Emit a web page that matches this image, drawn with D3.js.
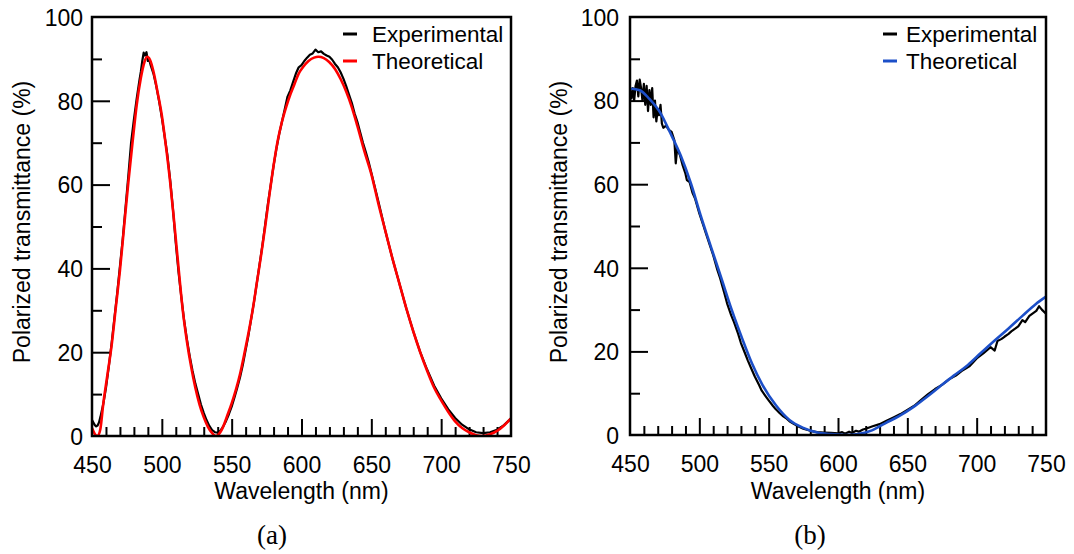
<!DOCTYPE html>
<html><head><meta charset="utf-8">
<script src="https://cdn.jsdelivr.net/npm/d3@7"></script>
<style>
html,body{margin:0;padding:0;background:#fff;}
svg{display:block;}
text{font-family:"Liberation Sans",Arial,sans-serif;fill:#000;}
</style></head>
<body>
<svg id="chart" width="1074" height="554"></svg>
<script>
// ---------- DATA ----------
const xTicksMajor = [450, 500, 550, 600, 650, 700, 750];
const yTicksMajor = [0, 20, 40, 60, 80, 100];
const seriesNames = ["Experimental", "Theoretical"];
const panelLabels = ["(a)", "(b)"];

// Panel (a): wavelength (nm), transmittance (%)
const expA_wl = [450,451,452,453,454,455,456,458,460,462,464,466,468,470,472,474,476,478,480,482,484,485,486,487,488,489,490,491,492,494,496,498,500,502,504,506,508,510,512,514,516,518,520,522,524,526,528,530,532,534,536,538,540,542,544,546,548,550,552,554,556,558,560,562,564,566,568,570,572,574,576,578,580,582,584,586,588,590,592,594,596,598,600,602,604,606,608,610,612,614,616,618,620,622,624,626,628,630,632,634,636,638,640,642,644,646,648,650,655,660,665,670,675,680,685,690,695,700,705,710,715,720,725,730,735,740,745,750];
const expA_T  = [3.8,3.2,2.6,2.3,2.5,3.2,4.5,7.5,11.5,16.5,22,28,34,40.5,47,54.5,62,70,75.5,80.5,85,87,89.5,91.5,90.8,91.6,89.5,89.8,88.5,86.5,83.5,80,76,71.5,67,61,54,46,39,33,27.5,23,19,15.5,12.5,10,7.5,5.5,3.8,2.4,1.4,0.9,0.8,1.3,2.3,3.6,5.2,7,9.2,11.5,14,17,20.5,24,28,32,36.5,41,45.5,50.5,55.5,60,64.5,68.5,72,75,78,81,82.5,84.5,86.5,88,88.5,89.5,90.3,91,91.3,92.2,91.6,91.8,91.2,90.8,90.5,89.8,88.8,88,86.8,85.3,83.5,81.5,79.5,77,75,72.5,70,67.8,65.5,62.8,56,49,42.5,36.5,30.5,25,20,15.8,12,9,6.4,4.3,2.7,1.6,0.9,0.7,0.9,1.5,2.6,4.2];
const theoA_wl = [450,452,454,456,458,461,464,467,470,473,476,479,482,485,487.5,489.5,491.5,494,497,500,503,506,509,512,515,518,521,524,527,530,533,536,538.7,541,544,547,550,553,556,559,562,565,568,571,574,577,580,583,586,589,592,595,598,601,605,609,612,616,620,624,628,632,636,640,645,650,655,660,665,670,675,680,685,690,695,700,705,710,715,720,725,729.5,735,740,745,750];
const theoA_T  = [1.9,0.5,0,1.7,7.5,14.5,21.5,30.5,39.5,50,60.5,70,79,85.5,89.2,90.5,89.8,87,82,76.5,69,60.5,50.5,40,30,22.5,16.5,11.5,7.5,4.5,2.2,0.7,0,0.5,2.3,5,7.8,11,14.8,19.5,24.5,30,36.5,43,50,57.5,64.5,70.5,75,78.5,81.5,84,86.5,88,89.5,90.3,90.5,90.2,89.2,87.6,85.2,82.2,78.5,74,68,62.5,55.5,49,42.5,36.5,30.5,25,20,15.5,11.5,8.5,5.8,3.5,1.9,0.9,0.2,0,0.4,1.2,2.5,4.2];

// Panel (b)
const expB_wl = [450,451,452,453,454,455,456,457,458,459,460,461,462,463,464,465,466,467,468,469,470,471,472,473,474,476,478,480,482,483,484,486,488,490,491,493,495,497,500,503,505,508,510,513,515,518,520,523,525,528,530,533,535,538,540,543,545,548,550,553,555,558,560,563,565,568,570,575,580,585,590,595,600,603,605,608,610,613,615,618,620,625,630,635,640,645,650,655,660,665,670,675,680,685,690,695,700,705,710,713,715,718,720,723,725,728,730,733,735,738,740,743,745,747,750];
const expB_T  = [82.5,80.5,83,80,83.5,84.8,81,85,83,80,84,79,83.5,77.5,82.5,79,83,76,80,75,78,76.5,79,74.5,73.5,74,73,72.5,70.5,65,68.5,67,64.5,62.5,61,60.5,58,56.5,53,50,48,45,43,39.5,37.5,34,31.5,28.6,27,24.2,22,19.5,17.8,15.5,14,12,10.6,9.2,8.3,7,6.2,5.2,4.6,3.9,3.3,2.7,2.3,1.5,1,0.7,0.6,0.5,0.4,0.7,0.3,0.8,0.5,1,0.8,1.3,1.5,2.1,2.6,3.4,4.2,5,6,7,8.4,9.8,11,12,13.3,14.2,15.5,16.5,18.3,19.6,21,20.2,22.5,23,23.5,24.2,24.8,25.5,26,27.5,27,28.5,29,29.7,30.8,30,29];
const theoB_wl = [450,457,464,472,479,486.5,494,501,508.5,516,523.5,531,538,545.5,555.5,565,575,585,595,605,614.5,624.5,634,644,654,664,673.5,683.5,693.5,703,713,723,733,742.5,750];
const theoB_T  = [82.9,82.5,80.4,77,72.3,66.9,60.1,52.5,44.9,37.4,29.8,23,17.1,12,7,3.6,1.7,0.6,0.2,0,0.25,1.1,2.8,4.5,6.6,9.1,11.6,14.2,16.7,19.6,22.6,25.5,28.5,31.3,33.1];

const expColor = "#000000";
const theoColors = ["#ff0000", "#1c4fc8"];

// ---------- LAYOUT ----------
const panels = [
  {left:92, right:511, top:17, bottom:436, exp:[expA_wl,expA_T], theo:[theoA_wl,theoA_T], color:theoColors[0],
   legendLine:343, legendText:372, yTitleX:22, labelX:83, capX:272},
  {left:630, right:1046, top:17, bottom:435, exp:[expB_wl,expB_T], theo:[theoB_wl,theoB_T], color:theoColors[1],
   legendLine:883, legendText:906, yTitleX:559, labelX:619, capX:810}
];

const svg = d3.select("#chart");

panels.forEach((p, i) => {
  const x = d3.scaleLinear().domain([450, 750]).range([p.left, p.right]);
  const y = d3.scaleLinear().domain([0, 100]).range([p.bottom, p.top]);
  const g = svg.append("g");

  const clipId = "clip" + i;
  svg.append("defs").append("clipPath").attr("id", clipId)
    .append("rect").attr("x", p.left).attr("y", p.top).attr("width", p.right - p.left).attr("height", p.bottom - p.top);

  // minor x ticks
  const xMinor = d3.range(450, 751, 10).filter(v => !xTicksMajor.includes(v));
  const axMinorX = g.append("g").attr("transform", `translate(0,${p.bottom})`)
    .call(d3.axisBottom(x).tickValues(xMinor).tickSize(-9).tickFormat(""));
  const axMajorX = g.append("g").attr("transform", `translate(0,${p.bottom})`)
    .call(d3.axisBottom(x).tickValues(xTicksMajor).tickSize(-17).tickPadding(20).tickFormat(d3.format("d")));
  // y ticks
  const yMinor = d3.range(10, 100, 20);
  const axMinorY = g.append("g").attr("transform", `translate(${p.left},0)`)
    .call(d3.axisLeft(y).tickValues(yMinor).tickSize(-10).tickFormat(""));
  const axMajorY = g.append("g").attr("transform", `translate(${p.left},0)`)
    .call(d3.axisLeft(y).tickValues(yTicksMajor).tickSize(-18).tickPadding(10).tickFormat(d3.format("d")));

  [axMinorX, axMajorX, axMinorY, axMajorY].forEach(a => {
    a.select(".domain").remove();
    a.selectAll(".tick line").attr("stroke", "#000").attr("stroke-width", 2);
  });
  axMajorX.selectAll(".tick text").attr("font-size", 23).attr("dy", null).attr("y", 37)
    .style("font-family", '"Liberation Sans",Arial,sans-serif');
  axMajorY.selectAll(".tick text").attr("font-size", 23).attr("dy", "0.36em")
    .attr("text-anchor", "end").attr("transform", `translate(${p.labelX - p.left},0)`)
    .style("font-family", '"Liberation Sans",Arial,sans-serif');
  axMajorY.selectAll(".tick text").attr("x", 0);
  axMajorY.selectAll(".tick").filter(d => d === 100 || d === 0).select("line").remove();
  axMajorX.selectAll(".tick").filter(d => d === 450 || d === 750).select("line").remove();

  // curves
  const line = d3.line().x(d => x(d[0])).y(d => y(d[1]));
  const expPts = p.exp[0].map((w, k) => [w, p.exp[1][k]]);
  const theoPts = p.theo[0].map((w, k) => [w, p.theo[1][k]]);
  g.append("path").datum(expPts).attr("clip-path", `url(#${clipId})`)
    .attr("fill", "none").attr("stroke", expColor).attr("stroke-width", 2.2)
    .attr("stroke-linejoin", "round").attr("d", line.curve(d3.curveLinear));
  g.append("path").datum(theoPts).attr("clip-path", `url(#${clipId})`)
    .attr("fill", "none").attr("stroke", p.color).attr("stroke-width", 2.6)
    .attr("d", d3.line().x(d => x(d[0])).y(d => y(d[1])).curve(d3.curveMonotoneX));

  // frame
  g.append("rect").attr("x", p.left).attr("y", p.top).attr("width", p.right - p.left).attr("height", p.bottom - p.top)
    .attr("fill", "none").attr("stroke", "#000").attr("stroke-width", 2.5);

  // legend
  const legColors = [expColor, p.color];
  seriesNames.forEach((name, k) => {
    const ly = 34 + k * 27;
    g.append("line").attr("x1", p.legendLine).attr("x2", p.legendLine + 14).attr("y1", ly).attr("y2", ly)
      .attr("stroke", legColors[k]).attr("stroke-width", 3);
    g.append("text").attr("x", p.legendText).attr("y", ly).attr("dy", "0.36em")
      .attr("font-size", 22.5).text(name);
  });

  // axis titles
  g.append("text").attr("x", (p.left + p.right) / 2).attr("y", 499).attr("text-anchor", "middle")
    .attr("font-size", 23).text("Wavelength (nm)");
  g.append("text").attr("transform", `translate(${p.yTitleX},222) rotate(-90)`).attr("text-anchor", "middle")
    .attr("dy", "0.36em").attr("font-size", 23).text("Polarized transmittance (%)");
  // panel caption
  g.append("text").attr("x", p.capX).attr("y", 544).attr("text-anchor", "middle")
    .style("font-family", '"Liberation Serif","Times New Roman",serif').attr("font-size", 27).text(panelLabels[i]);
});
</script>
</body></html>
